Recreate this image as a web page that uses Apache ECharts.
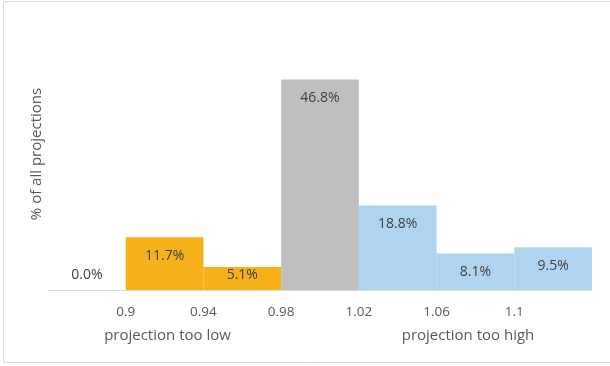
<!DOCTYPE html>
<html>
<head>
<meta charset="utf-8">
<script src="https://cdn.jsdelivr.net/npm/echarts@6/dist/echarts.min.js"></script>
<style>
html,body{margin:0;padding:0;background:#fff;}
#c{width:610px;height:366px;}
</style>
</head>
<body>
<div id="c"></div>
<script>
// Bin edges (lower, upper) and share of projections (%)
const binLower = [0.86, 0.90, 0.94, 0.98, 1.02, 1.06, 1.10];
const binUpper = [0.90, 0.94, 0.98, 1.02, 1.06, 1.10, 1.14];
const shares   = [0.0, 11.7, 5.1, 46.8, 18.8, 8.1, 9.5];
const binGroup = ['low', 'low', 'low', 'mid', 'high', 'high', 'high'];
const groupColors = { low: '#F5B01A', mid: '#BFBFBF', high: '#AFD4EF' };
const yAxisName = '% of all projections';
const lowLabel = 'projection too low';
const highLabel = 'projection too high';

const FONT = 'Open Sans';
const data = shares.map((v, i) => [binLower[i], binUpper[i], v, i]);

const chart = echarts.init(document.getElementById('c'), null, { renderer: 'canvas' });
chart.setOption({
  animation: false,
  backgroundColor: '#fff',
  grid: { left: 48, right: 18, top: 65, bottom: 76 },
  xAxis: {
    type: 'value', min: 0.86, max: 1.14, interval: 0.04,
    axisLine: { show: true, lineStyle: { color: '#D9D9D9', width: 1 } },
    axisTick: { show: false },
    splitLine: { show: false },
    axisLabel: {
      showMinLabel: false, showMaxLabel: false,
      color: '#595959', fontFamily: FONT, fontSize: 13.5, margin: 15,
      formatter: v => String(Math.round(v * 100) / 100)
    }
  },
  yAxis: {
    type: 'value', min: 0, max: 50,
    show: false
  },
  series: [{
    type: 'custom',
    encode: { x: [0, 1], y: 2 },
    data: data,
    renderItem: function (params, api) {
      const lo = api.value(0), hi = api.value(1), v = api.value(2), idx = api.value(3);
      const p0 = api.coord([lo, 0]);
      const p1 = api.coord([hi, v]);
      const x = p0[0], w = p1[0] - p0[0];
      const base = p0[1], top = p1[1];
      const ly = Math.min(top + 18.5, base - 15);
      return {
        type: 'group',
        children: [
          { type: 'rect', shape: { x: x, y: top, width: w, height: base - top },
            style: { fill: groupColors[binGroup[idx]] } },
          { type: 'text', x: x + w / 2, y: ly,
            style: { text: v.toFixed(1) + '%', fill: '#404040', font: '14px "' + FONT + '"',
                     align: 'center', verticalAlign: 'middle' } }
        ]
      };
    }
  }],
  graphic: [
    { type: 'rect', shape: { x: 3.5, y: 1.5, width: 620, height: 361 },
      style: { fill: 'none', stroke: '#D9D9D9', lineWidth: 1 }, silent: true },
    { type: 'text', x: 37, y: 154, rotation: Math.PI / 2,
      style: { text: yAxisName, fill: '#595959', font: '15px "' + FONT + '"', align: 'center', verticalAlign: 'middle' } },
    { type: 'text', x: 167.5, y: 336,
      style: { text: lowLabel, fill: '#595959', font: '15px "' + FONT + '"', align: 'center', verticalAlign: 'middle' } },
    { type: 'text', x: 468, y: 336,
      style: { text: highLabel, fill: '#595959', font: '15px "' + FONT + '"', align: 'center', verticalAlign: 'middle' } }
  ]
});
</script>
</body>
</html>
